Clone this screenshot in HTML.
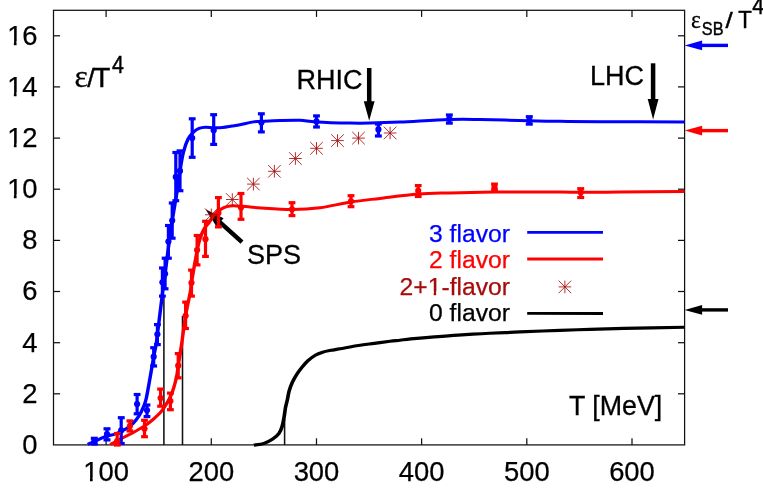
<!DOCTYPE html>
<html><head><meta charset="utf-8"><title>eps/T^4</title>
<style>
html,body{margin:0;padding:0;background:#fff;}
body{width:763px;height:493px;overflow:hidden;}
svg{display:block;font-family:"Liberation Sans",sans-serif;will-change:transform;}
</style></head><body>
<svg width="763" height="493" viewBox="0 0 763 493">
<rect x="0" y="0" width="763" height="493" fill="#fff"/>
<g stroke="#111" stroke-width="1.55" fill="none">
<line x1="163.9" y1="445" x2="163.9" y2="296"/>
<line x1="182.5" y1="445" x2="182.5" y2="316"/>
<line x1="284.6" y1="445" x2="284.6" y2="419"/>
</g>
<g stroke="#111" stroke-width="1.25" fill="none">
<rect x="53.5" y="10.3" width="631.1" height="434.6"/>
<line x1="106.1" y1="444.9" x2="106.1" y2="438.3"/>
<line x1="106.1" y1="10.3" x2="106.1" y2="16.9"/>
<line x1="211.3" y1="444.9" x2="211.3" y2="438.3"/>
<line x1="211.3" y1="10.3" x2="211.3" y2="16.9"/>
<line x1="316.5" y1="444.9" x2="316.5" y2="438.3"/>
<line x1="316.5" y1="10.3" x2="316.5" y2="16.9"/>
<line x1="421.6" y1="444.9" x2="421.6" y2="438.3"/>
<line x1="421.6" y1="10.3" x2="421.6" y2="16.9"/>
<line x1="526.8" y1="444.9" x2="526.8" y2="438.3"/>
<line x1="526.8" y1="10.3" x2="526.8" y2="16.9"/>
<line x1="632.0" y1="444.9" x2="632.0" y2="438.3"/>
<line x1="632.0" y1="10.3" x2="632.0" y2="16.9"/>
<line x1="53.5" y1="393.8" x2="60.1" y2="393.8"/>
<line x1="684.6" y1="393.8" x2="678.0" y2="393.8"/>
<line x1="53.5" y1="342.7" x2="60.1" y2="342.7"/>
<line x1="684.6" y1="342.7" x2="678.0" y2="342.7"/>
<line x1="53.5" y1="291.5" x2="60.1" y2="291.5"/>
<line x1="684.6" y1="291.5" x2="678.0" y2="291.5"/>
<line x1="53.5" y1="240.4" x2="60.1" y2="240.4"/>
<line x1="684.6" y1="240.4" x2="678.0" y2="240.4"/>
<line x1="53.5" y1="189.2" x2="60.1" y2="189.2"/>
<line x1="684.6" y1="189.2" x2="678.0" y2="189.2"/>
<line x1="53.5" y1="138.1" x2="60.1" y2="138.1"/>
<line x1="684.6" y1="138.1" x2="678.0" y2="138.1"/>
<line x1="53.5" y1="86.9" x2="60.1" y2="86.9"/>
<line x1="684.6" y1="86.9" x2="678.0" y2="86.9"/>
<line x1="53.5" y1="35.8" x2="60.1" y2="35.8"/>
<line x1="684.6" y1="35.8" x2="678.0" y2="35.8"/>
</g>
<g font-size="27.4px" fill="#000" stroke="#000" stroke-width="0.25">
<text x="37.6" y="453.9" text-anchor="end">0</text>
<text x="37.6" y="402.7" text-anchor="end">2</text>
<text x="37.6" y="351.6" text-anchor="end">4</text>
<text x="37.6" y="300.4" text-anchor="end">6</text>
<text x="37.6" y="249.3" text-anchor="end">8</text>
<text x="37.6" y="198.1" text-anchor="end">10</text>
<text x="37.6" y="147.0" text-anchor="end">12</text>
<text x="37.6" y="95.8" text-anchor="end">14</text>
<text x="37.6" y="44.7" text-anchor="end">16</text>
<text x="106.1" y="481.2" text-anchor="middle">100</text>
<text x="211.3" y="481.2" text-anchor="middle">200</text>
<text x="316.5" y="481.2" text-anchor="middle">300</text>
<text x="421.6" y="481.2" text-anchor="middle">400</text>
<text x="526.8" y="481.2" text-anchor="middle">500</text>
<text x="632.0" y="481.2" text-anchor="middle">600</text>
</g>
<rect x="8.01" y="194.66" width="5.85" height="5.41" fill="#fff"/><rect x="16.56" y="194.66" width="5.63" height="5.41" fill="#fff"/>
<rect x="8.01" y="143.51" width="5.85" height="5.41" fill="#fff"/><rect x="16.56" y="143.51" width="5.63" height="5.41" fill="#fff"/>
<rect x="8.01" y="92.36" width="5.85" height="5.41" fill="#fff"/><rect x="16.56" y="92.36" width="5.63" height="5.41" fill="#fff"/>
<rect x="8.01" y="41.20" width="5.85" height="5.40" fill="#fff"/><rect x="16.56" y="41.20" width="5.63" height="5.40" fill="#fff"/>
<rect x="84.12" y="477.72" width="5.85" height="5.41" fill="#fff"/><rect x="92.68" y="477.72" width="5.63" height="5.41" fill="#fff"/>
<path transform="scale(1.15,1)" d="M220.70,445.10C222.16,444.83 226.74,444.50 229.48,443.50C232.22,442.50 234.94,440.78 237.13,439.10C239.32,437.42 241.25,435.50 242.61,433.40C243.97,431.30 244.58,429.12 245.30,426.50C246.03,423.88 246.46,420.85 246.96,417.70C247.45,414.55 247.78,410.55 248.26,407.60C248.74,404.65 249.30,402.75 249.83,400.00C250.35,397.25 250.68,394.00 251.39,391.10C252.10,388.20 252.94,385.43 254.09,382.60C255.23,379.77 256.86,376.63 258.26,374.10C259.67,371.57 260.93,369.63 262.52,367.40C264.12,365.17 265.88,362.73 267.83,360.70C269.77,358.67 272.06,356.62 274.17,355.20C276.29,353.78 278.23,353.02 280.52,352.20C282.81,351.38 285.39,350.87 287.91,350.30C290.43,349.73 291.67,349.60 295.65,348.80C299.64,348.00 306.86,346.40 311.83,345.50C316.80,344.60 320.91,344.10 325.48,343.40C330.04,342.70 335.49,341.83 339.22,341.30C342.94,340.77 344.83,340.60 347.83,340.20C350.83,339.80 352.25,339.45 357.22,338.90C362.19,338.35 370.81,337.53 377.65,336.90C384.49,336.27 391.42,335.63 398.26,335.10C405.10,334.57 411.88,334.12 418.70,333.70C425.51,333.28 433.55,332.90 439.13,332.60C444.71,332.30 444.20,332.27 452.17,331.90C460.14,331.53 476.81,330.82 486.96,330.40C497.10,329.98 503.77,329.73 513.04,329.40C522.32,329.07 528.91,328.77 542.61,328.40C556.30,328.03 586.45,327.40 595.22,327.20" stroke="#000" stroke-width="3.15" fill="none" stroke-linejoin="round"/>
<line x1="242.0" y1="242.2" x2="219.2" y2="221.6" stroke="#000" stroke-width="4.5"/><polygon points="205.5,209.2 223.6,218.3 216.3,226.3" fill="#000"/>
<line x1="369.2" y1="68.0" x2="369.2" y2="102.2" stroke="#000" stroke-width="4.5"/><polygon points="369.2,120.7 363.8,101.2 374.6,101.2" fill="#000"/>
<line x1="653.1" y1="63.3" x2="653.1" y2="100.1" stroke="#000" stroke-width="4.5"/><polygon points="653.1,119.4 647.7,99.1 658.5,99.1" fill="#000"/>
<path transform="scale(1.15,1)" d="M76.26,444.40C77.26,443.90 79.74,442.68 82.26,441.40C84.78,440.12 88.33,437.97 91.39,436.70C94.45,435.43 97.55,435.12 100.61,433.80C103.67,432.48 107.30,430.43 109.74,428.80C112.17,427.17 113.38,426.12 115.22,424.00C117.06,421.88 119.25,418.82 120.78,416.10C122.32,413.38 123.36,410.68 124.43,407.70C125.51,404.72 126.13,403.70 127.22,398.20C128.30,392.70 129.88,381.62 130.96,374.70C132.03,367.78 132.83,361.98 133.65,356.70C134.48,351.42 135.38,346.73 135.91,343.00C136.45,339.27 135.93,342.97 136.87,334.30C137.81,325.63 140.45,301.08 141.57,291.00C142.68,280.92 142.59,282.47 143.57,273.80C144.54,265.13 146.36,247.87 147.39,239.00C148.42,230.13 148.54,229.27 149.74,220.60C150.94,211.93 153.48,195.28 154.61,187.00C155.74,178.72 155.71,176.70 156.52,170.90C157.33,165.10 158.30,157.53 159.48,152.20C160.65,146.87 162.09,142.28 163.57,138.90C165.04,135.52 166.75,133.65 168.35,131.90C169.94,130.15 171.43,129.18 173.13,128.40C174.83,127.62 176.42,127.32 178.52,127.20C180.62,127.08 183.25,127.65 185.74,127.70C188.23,127.75 190.83,127.77 193.48,127.50C196.13,127.23 199.12,126.55 201.65,126.10C204.19,125.65 205.57,125.50 208.70,124.80C211.83,124.10 217.39,122.47 220.43,121.90C223.48,121.33 223.12,121.63 226.96,121.40C230.80,121.17 237.83,120.68 243.48,120.50C249.13,120.32 255.65,120.07 260.87,120.30C266.09,120.53 267.54,121.43 274.78,121.90C282.03,122.37 296.52,122.90 304.35,123.10C312.17,123.30 314.49,123.27 321.74,123.10C328.99,122.93 336.38,122.70 347.83,122.10C359.28,121.50 378.84,119.93 390.43,119.50C402.03,119.07 405.80,119.28 417.39,119.50C428.99,119.72 448.41,120.50 460.00,120.80C471.59,121.10 476.67,121.15 486.96,121.30C497.25,121.45 503.70,121.60 521.74,121.70C539.78,121.80 582.97,121.87 595.22,121.90" stroke="#00f" stroke-width="3.0" fill="none" stroke-linejoin="round"/>
<path transform="scale(1.15,1)" d="M96.00,444.60C97.52,443.63 102.07,440.65 105.13,438.80C108.19,436.95 110.97,435.62 114.35,433.50C117.72,431.38 122.33,428.38 125.39,426.10C128.45,423.82 130.41,422.00 132.70,419.80C134.99,417.60 137.48,414.92 139.13,412.90C140.78,410.88 140.99,410.68 142.61,407.70C144.23,404.72 147.07,399.98 148.87,395.00C150.67,390.02 152.38,382.68 153.39,377.80C154.41,372.92 154.42,369.73 154.96,365.70C155.49,361.67 156.09,357.38 156.61,353.60C157.13,349.82 157.29,349.30 158.09,343.00C158.88,336.70 160.13,324.47 161.39,315.80C162.65,307.13 164.81,296.50 165.65,291.00C166.49,285.50 165.46,289.62 166.43,282.80C167.41,275.98 170.25,257.40 171.48,250.10C172.71,242.80 172.87,242.43 173.83,239.00C174.78,235.57 175.88,232.27 177.22,229.50C178.55,226.73 180.45,224.68 181.83,222.40C183.20,220.12 184.10,217.73 185.48,215.80C186.86,213.87 188.55,212.17 190.09,210.80C191.62,209.43 193.04,208.40 194.70,207.60C196.35,206.80 198.26,206.28 200.00,206.00C201.74,205.72 203.22,205.85 205.13,205.90C207.04,205.95 207.84,205.95 211.48,206.30C215.12,206.65 219.88,207.47 226.96,208.00C234.03,208.53 245.36,209.53 253.91,209.50C262.46,209.47 269.71,209.05 278.26,207.80C286.81,206.55 296.52,203.57 305.22,202.00C313.91,200.43 320.72,199.72 330.43,198.40C340.14,197.08 353.33,195.02 363.48,194.10C373.62,193.18 380.29,193.23 391.30,192.90C402.32,192.57 416.52,192.27 429.57,192.10C442.61,191.93 457.10,191.87 469.57,191.90C482.03,191.93 492.75,192.28 504.35,192.30C515.94,192.32 523.99,192.15 539.13,192.00C554.28,191.85 585.87,191.50 595.22,191.40" stroke="#f00" stroke-width="3.0" fill="none" stroke-linejoin="round"/>
<g stroke="#00f" stroke-width="3.2" fill="#00f"><line x1="94.3" y1="438.3" x2="94.3" y2="444.0"/><line x1="90.8" y1="438.3" x2="97.8" y2="438.3"/><line x1="90.8" y1="444.0" x2="97.8" y2="444.0"/><circle cx="94.3" cy="441.4" r="3.1" stroke="none"/><line x1="107.0" y1="428.8" x2="107.0" y2="439.9"/><line x1="103.5" y1="428.8" x2="110.5" y2="428.8"/><line x1="103.5" y1="439.9" x2="110.5" y2="439.9"/><circle cx="107.0" cy="434.1" r="3.1" stroke="none"/><line x1="121.2" y1="417.7" x2="121.2" y2="443.5"/><line x1="117.8" y1="417.7" x2="124.7" y2="417.7"/><line x1="117.8" y1="443.5" x2="124.7" y2="443.5"/><circle cx="121.2" cy="430.4" r="3.1" stroke="none"/><line x1="137.1" y1="394.5" x2="137.1" y2="413.8"/><line x1="133.7" y1="394.5" x2="140.5" y2="394.5"/><line x1="133.7" y1="413.8" x2="140.5" y2="413.8"/><circle cx="137.1" cy="404.0" r="3.1" stroke="none"/><line x1="147.0" y1="405.0" x2="147.0" y2="416.6"/><line x1="143.6" y1="405.0" x2="150.4" y2="405.0"/><line x1="143.6" y1="416.6" x2="150.4" y2="416.6"/><circle cx="147.0" cy="410.3" r="3.1" stroke="none"/><line x1="153.7" y1="347.7" x2="153.7" y2="366.0"/><line x1="150.2" y1="347.7" x2="157.1" y2="347.7"/><line x1="150.2" y1="366.0" x2="157.1" y2="366.0"/><circle cx="153.7" cy="356.7" r="3.1" stroke="none"/><line x1="157.4" y1="324.6" x2="157.4" y2="344.6"/><line x1="154.0" y1="324.6" x2="160.8" y2="324.6"/><line x1="154.0" y1="344.6" x2="160.8" y2="344.6"/><circle cx="157.4" cy="334.3" r="3.1" stroke="none"/><line x1="162.4" y1="268.0" x2="162.4" y2="296.1"/><line x1="159.0" y1="268.0" x2="165.8" y2="268.0"/><line x1="159.0" y1="296.1" x2="165.8" y2="296.1"/><circle cx="162.4" cy="282.3" r="3.1" stroke="none"/><line x1="165.1" y1="258.2" x2="165.1" y2="288.8"/><line x1="161.7" y1="258.2" x2="168.5" y2="258.2"/><line x1="161.7" y1="288.8" x2="168.5" y2="288.8"/><circle cx="165.1" cy="273.8" r="3.1" stroke="none"/><line x1="168.4" y1="225.5" x2="168.4" y2="258.2"/><line x1="165.0" y1="225.5" x2="171.8" y2="225.5"/><line x1="165.0" y1="258.2" x2="171.8" y2="258.2"/><circle cx="168.4" cy="241.6" r="3.1" stroke="none"/><line x1="172.2" y1="203.0" x2="172.2" y2="238.2"/><line x1="168.8" y1="203.0" x2="175.6" y2="203.0"/><line x1="168.8" y1="238.2" x2="175.6" y2="238.2"/><circle cx="172.2" cy="220.6" r="3.1" stroke="none"/><line x1="175.8" y1="152.5" x2="175.8" y2="200.7"/><line x1="172.4" y1="152.5" x2="179.2" y2="152.5"/><line x1="172.4" y1="200.7" x2="179.2" y2="200.7"/><circle cx="175.8" cy="176.9" r="3.1" stroke="none"/><line x1="180.0" y1="150.9" x2="180.0" y2="190.7"/><line x1="176.6" y1="150.9" x2="183.4" y2="150.9"/><line x1="176.6" y1="190.7" x2="183.4" y2="190.7"/><circle cx="180.0" cy="170.9" r="3.1" stroke="none"/><line x1="192.2" y1="118.8" x2="192.2" y2="157.3"/><line x1="188.8" y1="118.8" x2="195.6" y2="118.8"/><line x1="188.8" y1="157.3" x2="195.6" y2="157.3"/><circle cx="192.2" cy="138.1" r="3.1" stroke="none"/><line x1="213.7" y1="114.7" x2="213.7" y2="144.4"/><line x1="210.2" y1="114.7" x2="217.1" y2="114.7"/><line x1="210.2" y1="144.4" x2="217.1" y2="144.4"/><circle cx="213.7" cy="130.3" r="3.1" stroke="none"/><line x1="261.4" y1="113.8" x2="261.4" y2="131.9"/><line x1="257.9" y1="113.8" x2="264.8" y2="113.8"/><line x1="257.9" y1="131.9" x2="264.8" y2="131.9"/><circle cx="261.4" cy="122.5" r="3.1" stroke="none"/><line x1="316.5" y1="115.9" x2="316.5" y2="127.0"/><line x1="313.1" y1="115.9" x2="319.9" y2="115.9"/><line x1="313.1" y1="127.0" x2="319.9" y2="127.0"/><circle cx="316.5" cy="121.4" r="3.1" stroke="none"/><line x1="378.4" y1="124.0" x2="378.4" y2="136.0"/><line x1="374.9" y1="124.0" x2="381.8" y2="124.0"/><line x1="374.9" y1="136.0" x2="381.8" y2="136.0"/><circle cx="378.4" cy="129.4" r="3.1" stroke="none"/><line x1="449.3" y1="115.0" x2="449.3" y2="123.1"/><line x1="445.9" y1="115.0" x2="452.8" y2="115.0"/><line x1="445.9" y1="123.1" x2="452.8" y2="123.1"/><circle cx="449.3" cy="118.9" r="3.1" stroke="none"/><line x1="529.3" y1="116.7" x2="529.3" y2="124.1"/><line x1="525.8" y1="116.7" x2="532.8" y2="116.7"/><line x1="525.8" y1="124.1" x2="532.8" y2="124.1"/><circle cx="529.3" cy="120.4" r="3.1" stroke="none"/></g>
<g stroke="#f00" stroke-width="3.2" fill="#f00"><line x1="117.2" y1="433.5" x2="117.2" y2="445.0"/><line x1="113.8" y1="433.5" x2="120.7" y2="433.5"/><line x1="113.8" y1="445.0" x2="120.7" y2="445.0"/><circle cx="117.2" cy="441.0" r="3.1" stroke="none"/><line x1="129.9" y1="420.9" x2="129.9" y2="430.9"/><line x1="126.5" y1="420.9" x2="133.3" y2="420.9"/><line x1="126.5" y1="430.9" x2="133.3" y2="430.9"/><circle cx="129.9" cy="426.1" r="3.1" stroke="none"/><line x1="144.5" y1="420.3" x2="144.5" y2="436.7"/><line x1="141.1" y1="420.3" x2="147.9" y2="420.3"/><line x1="141.1" y1="436.7" x2="147.9" y2="436.7"/><circle cx="144.5" cy="428.8" r="3.1" stroke="none"/><line x1="160.6" y1="389.1" x2="160.6" y2="406.2"/><line x1="157.2" y1="389.1" x2="164.0" y2="389.1"/><line x1="157.2" y1="406.2" x2="164.0" y2="406.2"/><circle cx="160.6" cy="398.0" r="3.1" stroke="none"/><line x1="170.4" y1="393.1" x2="170.4" y2="409.7"/><line x1="167.0" y1="393.1" x2="173.8" y2="393.1"/><line x1="167.0" y1="409.7" x2="173.8" y2="409.7"/><circle cx="170.4" cy="401.0" r="3.1" stroke="none"/><line x1="178.2" y1="353.6" x2="178.2" y2="377.8"/><line x1="174.8" y1="353.6" x2="181.6" y2="353.6"/><line x1="174.8" y1="377.8" x2="181.6" y2="377.8"/><circle cx="178.2" cy="365.7" r="3.1" stroke="none"/><line x1="185.6" y1="302.1" x2="185.6" y2="328.5"/><line x1="182.2" y1="302.1" x2="189.0" y2="302.1"/><line x1="182.2" y1="328.5" x2="189.0" y2="328.5"/><circle cx="185.6" cy="315.8" r="3.1" stroke="none"/><line x1="191.5" y1="270.1" x2="191.5" y2="296.1"/><line x1="188.1" y1="270.1" x2="194.9" y2="270.1"/><line x1="188.1" y1="296.1" x2="194.9" y2="296.1"/><circle cx="191.5" cy="282.8" r="3.1" stroke="none"/><line x1="197.1" y1="235.5" x2="197.1" y2="264.9"/><line x1="193.7" y1="235.5" x2="200.5" y2="235.5"/><line x1="193.7" y1="264.9" x2="200.5" y2="264.9"/><circle cx="197.1" cy="250.1" r="3.1" stroke="none"/><line x1="205.5" y1="221.3" x2="205.5" y2="256.4"/><line x1="202.1" y1="221.3" x2="208.9" y2="221.3"/><line x1="202.1" y1="256.4" x2="208.9" y2="256.4"/><circle cx="205.5" cy="239.2" r="3.1" stroke="none"/><line x1="218.4" y1="197.6" x2="218.4" y2="226.9"/><line x1="215.0" y1="197.6" x2="221.8" y2="197.6"/><line x1="215.0" y1="226.9" x2="221.8" y2="226.9"/><circle cx="218.4" cy="212.9" r="3.1" stroke="none"/><line x1="241.0" y1="193.5" x2="241.0" y2="219.3"/><line x1="237.6" y1="193.5" x2="244.4" y2="193.5"/><line x1="237.6" y1="219.3" x2="244.4" y2="219.3"/><circle cx="241.0" cy="207.5" r="3.1" stroke="none"/><line x1="292.0" y1="202.7" x2="292.0" y2="215.6"/><line x1="288.6" y1="202.7" x2="295.4" y2="202.7"/><line x1="288.6" y1="215.6" x2="295.4" y2="215.6"/><circle cx="292.0" cy="209.3" r="3.1" stroke="none"/><line x1="351.0" y1="195.7" x2="351.0" y2="206.7"/><line x1="347.6" y1="195.7" x2="354.4" y2="195.7"/><line x1="347.6" y1="206.7" x2="354.4" y2="206.7"/><circle cx="351.0" cy="201.3" r="3.1" stroke="none"/><line x1="418.2" y1="185.6" x2="418.2" y2="196.5"/><line x1="414.8" y1="185.6" x2="421.6" y2="185.6"/><line x1="414.8" y1="196.5" x2="421.6" y2="196.5"/><circle cx="418.2" cy="190.8" r="3.1" stroke="none"/><line x1="494.5" y1="184.1" x2="494.5" y2="189.9"/><line x1="491.1" y1="184.1" x2="497.9" y2="184.1"/><line x1="491.1" y1="189.9" x2="497.9" y2="189.9"/><circle cx="494.5" cy="187.3" r="3.1" stroke="none"/><line x1="580.7" y1="188.7" x2="580.7" y2="197.5"/><line x1="577.2" y1="188.7" x2="584.2" y2="188.7"/><line x1="577.2" y1="197.5" x2="584.2" y2="197.5"/><circle cx="580.7" cy="192.5" r="3.1" stroke="none"/></g>
<g stroke="#a80a0a" stroke-width="0.85" fill="none">
<path d="M205.0,214.8H217.6M211.3,208.5V221.1M205.0,208.5L217.6,221.1M205.0,221.1L217.6,208.5"/>
<path d="M226.0,199.5H238.6M232.3,193.2V205.8M226.0,193.2L238.6,205.8M226.0,205.8L238.6,193.2"/>
<path d="M247.1,184.1H259.7M253.4,177.8V190.4M247.1,177.8L259.7,190.4M247.1,190.4L259.7,177.8"/>
<path d="M268.1,171.3H280.7M274.4,165.0V177.6M268.1,165.0L280.7,177.6M268.1,177.6L280.7,165.0"/>
<path d="M289.1,158.5H301.7M295.4,152.2V164.8M289.1,152.2L301.7,164.8M289.1,164.8L301.7,152.2"/>
<path d="M310.2,148.3H322.8M316.5,142.0V154.6M310.2,142.0L322.8,154.6M310.2,154.6L322.8,142.0"/>
<path d="M331.2,140.6H343.8M337.5,134.3V146.9M331.2,134.3L343.8,146.9M331.2,146.9L343.8,134.3"/>
<path d="M352.2,138.1H364.8M358.5,131.8V144.4M352.2,131.8L364.8,144.4M352.2,144.4L364.8,131.8"/>
<path d="M383.8,133.0H396.4M390.1,126.7V139.3M383.8,126.7L396.4,139.3M383.8,139.3L396.4,126.7"/>
<path d="M558.6,286.9H571.2M564.9,280.6V293.2M558.6,280.6L571.2,293.2M558.6,293.2L571.2,280.6"/>
</g>
<line x1="728.0" y1="45.4" x2="701.1" y2="45.4" stroke="#00f" stroke-width="3.4"/><polygon points="684.6,45.4 702.1,40.6 702.1,50.2" fill="#00f"/>
<line x1="728.0" y1="130.6" x2="701.1" y2="130.6" stroke="#f00" stroke-width="3.4"/><polygon points="684.6,130.6 702.1,125.8 702.1,135.4" fill="#f00"/>
<line x1="728.0" y1="309.9" x2="701.1" y2="309.9" stroke="#000" stroke-width="3.4"/><polygon points="684.6,309.9 702.1,305.1 702.1,314.7" fill="#000"/>
<g font-size="24.7px" text-anchor="end" stroke-width="0.25">
<text x="510" y="241.7" fill="#00f" stroke="#00f">3 flavor</text>
<text x="510" y="268" fill="#f00" stroke="#f00">2 flavor</text>
<text x="510" y="294.6" fill="#a80a0a" stroke="#a80a0a">2+1-flavor</text>
<text x="510" y="321.3" fill="#000" stroke="#000">0 flavor</text>
</g>
<rect x="428.32" y="291.32" width="5.38" height="5.20" fill="#fff"/><rect x="436.16" y="291.32" width="5.18" height="5.20" fill="#fff"/>
<line x1="527.2" y1="232.3" x2="603" y2="232.3" stroke="#00f" stroke-width="2.8"/>
<line x1="527.2" y1="259" x2="603" y2="259" stroke="#f00" stroke-width="2.8"/>
<line x1="527.2" y1="313.4" x2="603" y2="313.5" stroke="#000" stroke-width="2.8"/>
<text x="296.5" y="89.4" font-size="27px" fill="#000" stroke="#000" stroke-width="0.3">RHIC</text>
<text x="590" y="84.6" font-size="27px" fill="#000" stroke="#000" stroke-width="0.3">LHC</text>
<text x="247.1" y="263.7" font-size="27px" fill="#000" stroke="#000" stroke-width="0.3">SPS</text>
<text x="569.0" y="415.3" font-size="26.8px" fill="#000" stroke="#000" stroke-width="0.3">T [MeV]</text>
<text transform="translate(74.60,87.18) scale(1.002,1)" font-family="Liberation Serif,serif" font-size="31.60px" fill="#000" stroke="#000" stroke-width="0.30">ε</text>
<text transform="translate(87.30,86.84) scale(1.022,1)" font-size="26.39px" fill="#000" stroke="#000" stroke-width="0.45">/</text>
<text transform="translate(93.20,86.60) scale(1.019,1)" font-size="27.47px" fill="#000" stroke="#000" stroke-width="0.45">T</text>
<text transform="translate(112.10,73.40) scale(0.861,1)" font-size="24.85px" fill="#000" stroke="#000" stroke-width="0.45">4</text>
<text transform="translate(691.10,27.94) scale(0.891,1)" font-family="Liberation Serif,serif" font-size="26.20px" fill="#000" stroke="#000" stroke-width="0.30">ε</text>
<text transform="translate(701.80,34.52) scale(0.900,1)" font-size="18.08px" fill="#000" stroke="#000" stroke-width="0.45">SB</text>
<text transform="translate(725.40,27.68) scale(1.154,1)" font-size="22.45px" fill="#000" stroke="#000" stroke-width="0.45">/</text>
<text transform="translate(738.20,27.90) scale(0.928,1)" font-size="23.98px" fill="#000" stroke="#000" stroke-width="0.45">T</text>
<text transform="translate(752.30,14.30) scale(0.861,1)" font-size="24.85px" fill="#000" stroke="#000" stroke-width="0.45">4</text>
</svg></body></html>
